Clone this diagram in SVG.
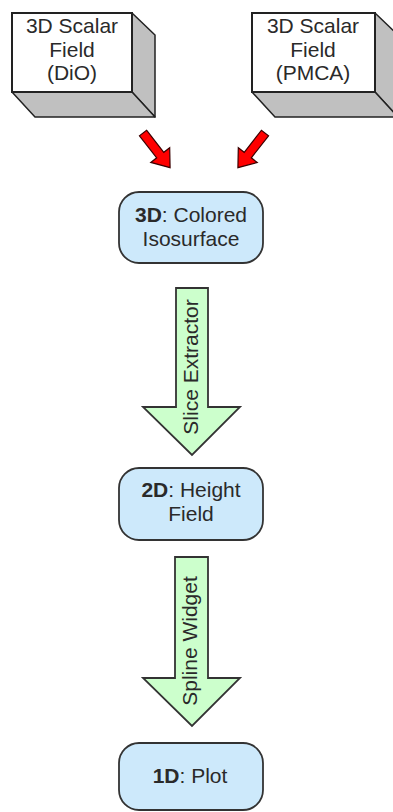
<svg xmlns="http://www.w3.org/2000/svg" width="393" height="812" viewBox="0 0 393 812">
<style>
  text { font-family: "Liberation Sans", Arial, sans-serif; font-size: 21px; fill: #2a2a2a; text-anchor: middle; }
  .b { font-weight: bold; }
  .front { fill: #ffffff; stroke: #222; stroke-width: 2; }
  .shade { fill: #c0c0c0; stroke: #222; stroke-width: 1.5; stroke-linejoin: round; }
  .node { fill: #cde9fb; stroke: #333; stroke-width: 1.8; }
  .big { fill: #ccffcc; stroke: #333; stroke-width: 1.8; stroke-linejoin: miter; }
  .red { fill: #ff0000; stroke: #3a0000; stroke-width: 1.2; stroke-linejoin: miter; }
</style>
<defs>
  <polygon id="redArrow" points="0,-4.5 28,-4.5 28,-12 44,0 28,12 28,4.5 0,4.5"/>
</defs>
<rect width="393" height="812" fill="#ffffff"/>

<g id="dio">
  <polygon class="shade" points="132,13 155,35 155,117 132,92"/>
  <polygon class="shade" points="12,92 132,92 155,117 35,117"/>
  <rect class="front" x="12" y="13" width="120" height="79"/>
  <text x="72" y="33">3D Scalar</text>
  <text x="72" y="57">Field</text>
  <text x="72" y="80">(DiO)</text>
</g>

<g id="pmca">
  <polygon class="shade" points="375,13 398,35 398,117 375,92"/>
  <polygon class="shade" points="252,92 375,92 398,117 275,117"/>
  <rect class="front" x="252" y="13" width="123" height="79"/>
  <text x="313" y="33">3D Scalar</text>
  <text x="313" y="57">Field</text>
  <text x="313" y="80">(PMCA)</text>
</g>

<g id="iso">
  <rect class="node" x="119" y="192" width="144" height="71" rx="20" ry="20"/>
  <text x="191" y="222"><tspan class="b">3D</tspan>: Colored</text>
  <text x="191" y="246">Isosurface</text>
</g>

<g id="height">
  <rect class="node" x="119" y="468" width="144" height="72" rx="20" ry="20"/>
  <text x="191" y="497"><tspan class="b">2D</tspan>: Height</text>
  <text x="191" y="521">Field</text>
</g>

<g id="plot">
  <rect class="node" x="119" y="743" width="144" height="67" rx="20" ry="20"/>
  <text x="190" y="783"><tspan class="b">1D</tspan>: Plot</text>
</g>

<g id="connectors">
  <use href="#redArrow" class="red" transform="translate(143,133) rotate(52)"/>
  <use href="#redArrow" class="red" transform="translate(265,133) rotate(128)"/>
  <g id="slice">
    <polygon class="big" points="176,288 208,288 208,407 240,407 192,455 143,407 176,407"/>
    <text transform="translate(198,367) rotate(-90)">Slice Extractor</text>
  </g>
  <g id="spline">
    <polygon class="big" points="175,557 208,557 208,678 240,678 192,726 143,678 175,678"/>
    <text transform="translate(197,641) rotate(-90)">Spline Widget</text>
  </g>
</g>
</svg>
